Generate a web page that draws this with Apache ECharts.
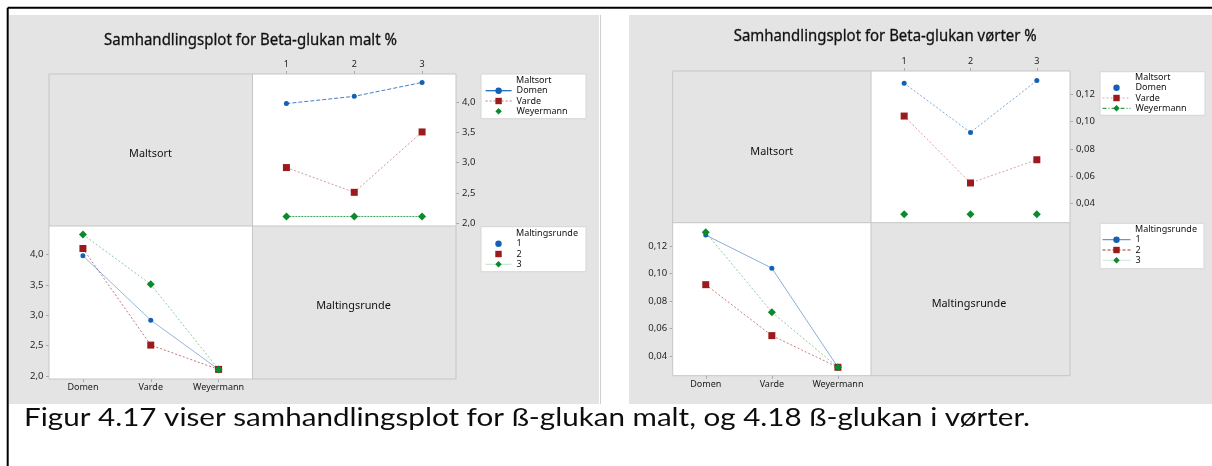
<!DOCTYPE html>
<html>
<head>
<meta charset="utf-8">
<script src="https://cdn.jsdelivr.net/npm/echarts@6/dist/echarts.min.js"></script>
<style>
  html, body { margin: 0; padding: 0; background: #fff; }
  #chart { width: 1212px; height: 466px; }
</style>
</head>
<body>
<div id="chart"></div>
<script>
// ---- data ----------------------------------------------------------------
const maltsort = ['Domen', 'Varde', 'Weyermann'];
const maltingsrunde = ['1', '2', '3'];

// Beta-glukan i malt (%), one value per maltingsrunde
const maltDomen = [3.98, 4.10, 4.33];
const maltVarde = [2.92, 2.51, 3.51];
const maltWeyermann = [2.11, 2.11, 2.11];

// Beta-glukan i vørter (%), one value per maltingsrunde
const vorterDomen = [0.128, 0.092, 0.130];
const vorterVarde = [0.104, 0.055, 0.072];
const vorterWeyermann = [0.032, 0.032, 0.032];

const maltTicks = [2.0, 2.5, 3.0, 3.5, 4.0];
const vorterTicks = [0.04, 0.06, 0.08, 0.10, 0.12];

const titleMalt = 'Samhandlingsplot for Beta-glukan malt %';
const titleVorter = 'Samhandlingsplot for Beta-glukan vørter %';
const factorA = 'Maltsort';
const factorB = 'Maltingsrunde';
const caption = 'Figur 4.17 viser samhandlingsplot for ß-glukan malt, og 4.18 ß-glukan i vørter.';

// ---- style ---------------------------------------------------------------
const FONT = '"Noto Sans", "Open Sans", sans-serif';
const CAPTION_FONT = 'Lato, "Noto Sans", sans-serif';
const PANEL_BG = '#e4e4e4';
const CELL_LINE = '#c6c6c6';
const INK = '#111';
const BLUE = '#1360b4', RED = '#9c1a1c', GREEN = '#0a8a2c';

const marker = {
  Domen: { color: BLUE, symbol: 'circle', size: 5 },
  Varde: { color: RED, symbol: 'rect', size: 7 },
  Weyermann: { color: GREEN, symbol: 'diamond', size: 8 },
  '1': { color: BLUE, symbol: 'circle', size: 5 },
  '2': { color: RED, symbol: 'rect', size: 7 },
  '3': { color: GREEN, symbol: 'diamond', size: 8 }
};

// geometry and line styles of the two interaction plots
const panels = [
  {
    title: titleMalt, titleWidth: 293, rows: [maltDomen, maltVarde, maltWeyermann],
    ticks: maltTicks, decimals: 1, yMin: 1.952, yMax: 4.47,
    bg: [9, 15, 599, 404], titleX: 250.5, titleY: 40,
    cols: [49, 252.5, 456], rowsY: [74, 226, 379],
    labelA: [150.5, 154], labelB: [353.5, 306],
    topMargin: 5, bottomMargin: 4,
    lines: {
      Domen: { type: [4, 2], opacity: 0.8 },
      Varde: { type: [2, 2], opacity: 0.45 },
      Weyermann: { type: [2, 1], opacity: 0.8 },
      '1': { type: 'solid', opacity: 0.45 },
      '2': { type: [2, 2], opacity: 0.6 },
      '3': { type: [2, 2], opacity: 0.45 }
    },
    legendA: { box: [481, 74, 105, 44.7], titleY: 80, left: 485, top: 85.7, itemWidth: 26,
      items: { Domen: { type: 'solid', opacity: 1, width: 1.2 }, Varde: { type: [2, 2], opacity: 0.6 }, Weyermann: { opacity: 0 } } },
    legendB: { box: [481, 226.7, 105, 45], titleY: 233.5, left: 485, top: 238.7, itemWidth: 26,
      items: { '1': { opacity: 0 }, '2': { opacity: 0 }, '3': { type: 'solid', opacity: 0.25 } } }
  },
  {
    title: titleVorter, titleWidth: 303, rows: [vorterDomen, vorterVarde, vorterWeyermann],
    ticks: vorterTicks, decimals: 2, yMin: 0.0259, yMax: 0.137,
    bg: [629, 15, 1212, 404], titleX: 885.2, titleY: 36,
    cols: [672.7, 871, 1070], rowsY: [71, 222.7, 375.7],
    labelA: [771.7, 151.7], labelB: [969, 304],
    topMargin: 5, bottomMargin: 4.5,
    lines: {
      Domen: { type: [2, 2], opacity: 0.55 },
      Varde: { type: [2, 2], opacity: 0.4 },
      Weyermann: { type: [2, 2], opacity: 0 },
      '1': { type: 'solid', opacity: 0.5 },
      '2': { type: [2, 2], opacity: 0.55 },
      '3': { type: [2, 2], opacity: 0.45 }
    },
    legendA: { box: [1100, 71.7, 105, 43.6], titleY: 77.3, left: 1102, top: 82.7, itemWidth: 28,
      items: { Domen: { opacity: 0 }, Varde: { type: [2, 2], opacity: 0.35 }, Weyermann: { type: [4, 2, 1, 2], opacity: 1 } } },
    legendB: { box: [1100, 223.3, 104, 45.4], titleY: 229.3, left: 1102, top: 234.7, itemWidth: 28,
      items: { '1': { type: 'solid', opacity: 0.8 }, '2': { type: [3, 2], opacity: 0.9 }, '3': { type: 'solid', opacity: 0.2 } } }
  }
];

// ---- text fitting helpers --------------------------------------------------
const measureCtx = document.createElement('canvas').getContext('2d');
function textWidth(text, size, family) {
  measureCtx.font = size + 'px ' + family;
  return measureCtx.measureText(text).width;
}
const TITLE_SIZE = 16.8;
const CAPTION_SIZE = 24.7;
const captionScale = 1006 / textWidth(caption, CAPTION_SIZE, CAPTION_FONT);

// ---- option building -------------------------------------------------------
const grid = [], xAxis = [], yAxis = [], series = [], legend = [], graphic = [];

function text(str, x, y, size, style, scaleX) {
  graphic.push({
    type: 'text', x: x, y: y, z: 10, silent: true, scaleX: scaleX || 1,
    style: Object.assign({ text: str, fontSize: size, fontFamily: FONT, fill: INK,
      textAlign: 'center', textVerticalAlign: 'middle' }, style || {})
  });
}

// black frame lines of the page
graphic.push({ type: 'line', z: 10, silent: true, shape: { x1: 7.7, y1: 7.7, x2: 1212, y2: 7.7 }, style: { stroke: '#000', lineWidth: 2 } });
graphic.push({ type: 'line', z: 10, silent: true, shape: { x1: 7.7, y1: 7.7, x2: 7.7, y2: 466 }, style: { stroke: '#000', lineWidth: 2 } });
graphic.push({ type: 'line', z: -5, silent: true, shape: { x1: 600.5, y1: 15, x2: 600.5, y2: 404 }, style: { stroke: '#cfcfcf', lineWidth: 1 } });

panels.forEach((p, k) => {
  const gTop = 2 * k, gBottom = 2 * k + 1;
  const [c0, c1, c2] = p.cols;
  const [r0, r1, r2] = p.rowsY;
  const fmt = v => v.toFixed(p.decimals).replace('.', ',');

  // background panel
  graphic.push({ type: 'rect', z: -10, silent: true,
    shape: { x: p.bg[0], y: p.bg[1], width: p.bg[2] - p.bg[0], height: p.bg[3] - p.bg[1] },
    style: { fill: PANEL_BG } });

  // cell outlines of the 2x2 matrix
  graphic.push({ type: 'rect', z: 1, silent: true,
    shape: { x: c0, y: r0, width: c2 - c0, height: r2 - r0 },
    style: { fill: null, stroke: CELL_LINE, lineWidth: 1 } });
  graphic.push({ type: 'line', z: 1, silent: true, shape: { x1: c1, y1: r0, x2: c1, y2: r2 }, style: { stroke: CELL_LINE, lineWidth: 1 } });
  graphic.push({ type: 'line', z: 1, silent: true, shape: { x1: c0, y1: r1, x2: c2, y2: r1 }, style: { stroke: CELL_LINE, lineWidth: 1 } });

  // titles and factor labels
  const titleScale = p.titleWidth / textWidth(p.title, TITLE_SIZE, FONT);
  text(p.title, p.titleX, p.titleY, TITLE_SIZE, { stroke: INK, lineWidth: 0.3 }, titleScale);
  text(factorA, p.labelA[0], p.labelA[1], 11.3, null, 0.96);
  text(factorB, p.labelB[0], p.labelB[1], 11.3, null, 0.96);

  // plot cells: top right = response by maltingsrunde, bottom left = response by maltsort
  const cells = [
    { gi: gTop, left: c1, top: r0, width: c2 - c1, height: r1 - r0, cats: maltingsrunde, xPos: 'top', yPos: 'right', margin: p.topMargin },
    { gi: gBottom, left: c0, top: r1, width: c1 - c0, height: r2 - r1, cats: maltsort, xPos: 'bottom', yPos: 'left', margin: p.bottomMargin }
  ];
  cells.forEach(c => {
    grid.push({ left: c.left, top: c.top, width: c.width, height: c.height, show: true,
      backgroundColor: '#fff', borderWidth: 0, containLabel: false, outerBoundsMode: 'none' });
    xAxis.push({ type: 'category', gridIndex: c.gi, data: c.cats, position: c.xPos, boundaryGap: true,
      axisLine: { show: false },
      axisTick: { show: true, alignWithLabel: true, interval: 0, length: 3, lineStyle: { color: '#a8a8a8' } },
      axisLabel: { show: true, interval: 0, hideOverlap: false, margin: c.margin, fontSize: 9, fontFamily: FONT, color: '#1a1a1a' },
      splitLine: { show: false } });
    yAxis.push({ type: 'value', gridIndex: c.gi, position: c.yPos, min: p.yMin, max: p.yMax,
      axisLine: { show: false },
      axisTick: { show: true, length: 3, customValues: p.ticks, lineStyle: { color: '#a8a8a8' } },
      axisLabel: { show: true, customValues: p.ticks, formatter: fmt, margin: c.yPos === 'right' ? 6 : 5.5,
        fontSize: 9.5, fontFamily: FONT, color: '#262626' },
      splitLine: { show: false } });
  });

  function addSeries(name, values, gi) {
    const m = marker[name];
    series.push({ type: 'line', name: name, xAxisIndex: gi, yAxisIndex: gi, data: values,
      symbol: m.symbol, symbolSize: m.size, showSymbol: true, animation: false, silent: true,
      itemStyle: { color: m.color, opacity: 1 },
      lineStyle: Object.assign({ color: m.color, width: 1 }, p.lines[name]),
      emphasis: { disabled: true }, z: 3 });
  }
  maltsort.forEach((ms, i) => addSeries(ms, p.rows[i], gTop));
  maltingsrunde.forEach((mr, j) => addSeries(mr, p.rows.map(r => r[j]), gBottom));

  // legends with their framed boxes and headings
  [[p.legendA, maltsort, factorA], [p.legendB, maltingsrunde, factorB]].forEach(([L, names, heading]) => {
    graphic.push({ type: 'rect', z: 3, silent: true,
      shape: { x: L.box[0], y: L.box[1], width: L.box[2], height: L.box[3] },
      style: { fill: '#fff', stroke: '#d6d6d6', lineWidth: 1 } });
    text(heading, L.left + L.itemWidth + 5, L.titleY, 9, { textAlign: 'left' });
    legend.push({ show: true, orient: 'vertical', left: L.left, top: L.top, padding: 0,
      itemWidth: L.itemWidth, itemHeight: 8, itemGap: 0.3, selectedMode: false, z: 6,
      textStyle: { fontSize: 9, fontFamily: FONT, color: INK, lineHeight: 10 },
      data: names.map(n => ({ name: n, lineStyle: Object.assign({ width: 1 }, L.items[n]) })) });
  });
});

// figure caption under both plots
graphic.push({ type: 'text', x: 24, y: 418.5, z: 10, silent: true, scaleX: captionScale, originX: 0,
  style: { text: caption, fontSize: CAPTION_SIZE, fontFamily: CAPTION_FONT, fill: '#0d0d0d',
    textAlign: 'left', textVerticalAlign: 'middle' } });

const chart = echarts.init(document.getElementById('chart'), null, { renderer: 'canvas' });
chart.setOption({
  backgroundColor: '#fff',
  animation: false,
  tooltip: { show: false },
  grid: grid, xAxis: xAxis, yAxis: yAxis, series: series, legend: legend, graphic: graphic
});
</script>
</body>
</html>
